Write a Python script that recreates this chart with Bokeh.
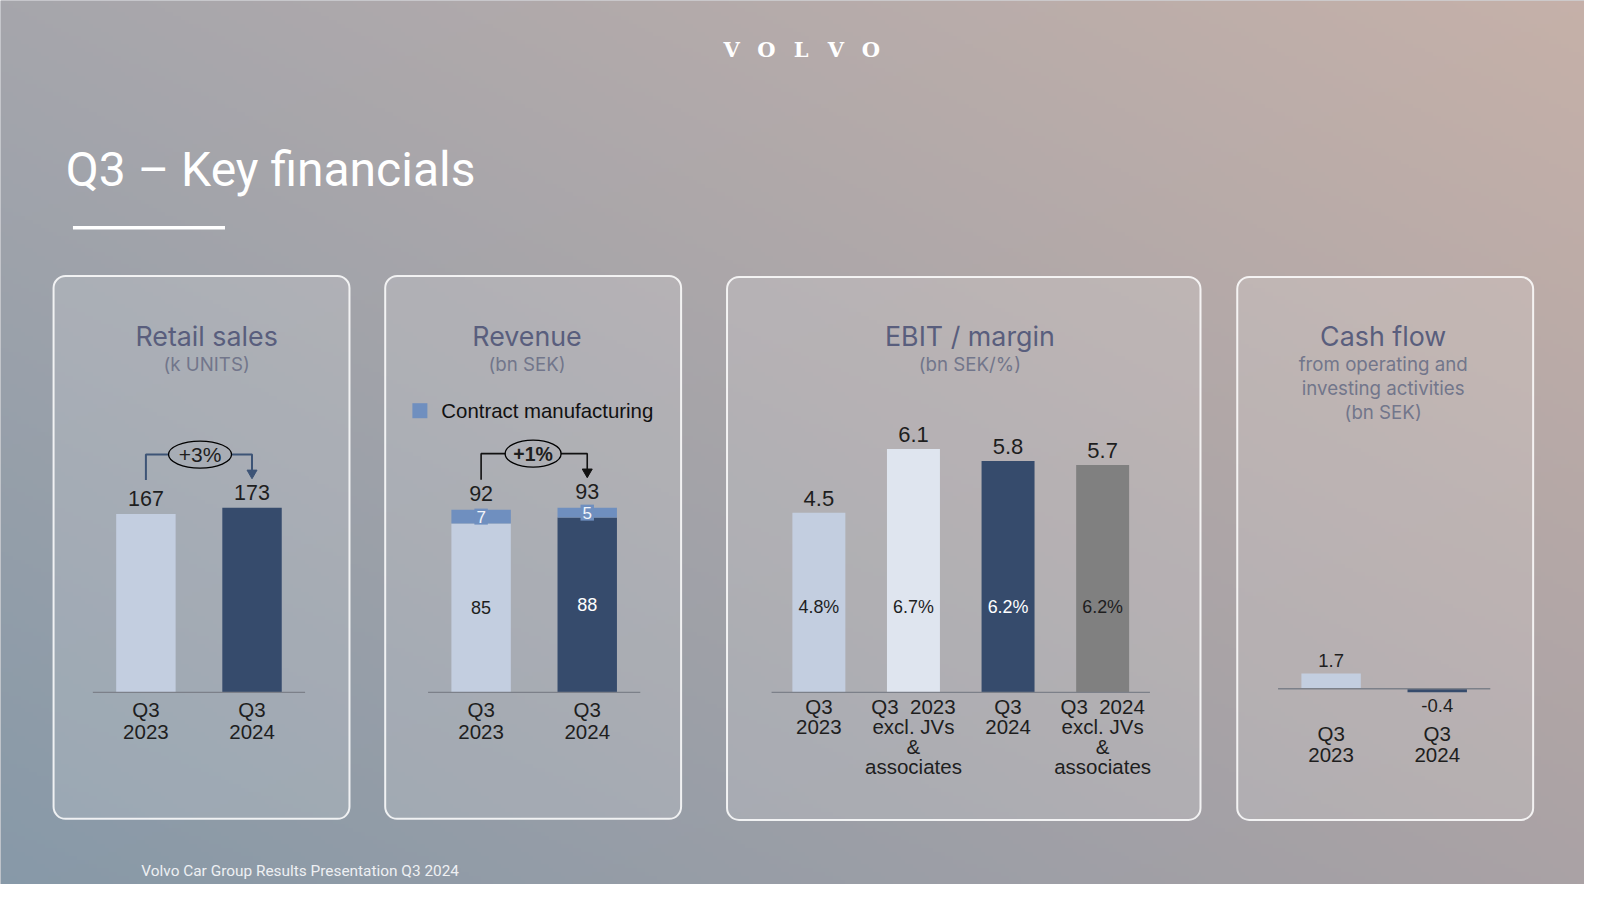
import numpy as np
from bokeh.plotting import figure
from bokeh.models import Range1d
from bokeh.core.properties import value
from bokeh.embed import file_html
from bokeh.resources import INLINE

CW, CH = 1584, 884          # canvas size in page pixels
SC = 0.98                   # layout units per page pixel
X1, Y1 = CW * SC, CH * SC   # extent of the layout coordinate system

# ---------------- data ----------------
slide_title = "Q3 \u2013 Key financials"
footer_text = "Volvo Car Group Results Presentation Q3 2024"
logo_letters = ["V", "O", "L", "V", "O"]

panel_titles = ["Retail sales", "Revenue", "EBIT / margin", "Cash flow"]
panel_subtitles = ["(k UNITS)", "(bn SEK)", "(bn SEK/%)",
                   "from operating and\ninvesting activities\n(bn SEK)"]

retail_cats = ["Q3\n2023", "Q3\n2024"]
retail_vals = [167, 173]
retail_change = "+3%"

revenue_cats = ["Q3\n2023", "Q3\n2024"]
revenue_core = [85, 88]
revenue_contract = [7, 5]
revenue_total = [92, 93]
revenue_change = "+1%"
revenue_legend = "Contract manufacturing"

ebit_cats = ["Q3\n2023", "Q3\u00a0\u00a02023\nexcl. JVs\n&\nassociates",
             "Q3\n2024", "Q3\u00a0\u00a02024\nexcl. JVs\n&\nassociates"]
ebit_vals = [4.5, 6.1, 5.8, 5.7]
ebit_margins = ["4.8%", "6.7%", "6.2%", "6.2%"]

cash_cats = ["Q3\n2023", "Q3\n2024"]
cash_vals = [1.7, -0.4]

# ---------------- styles ----------------
LIGHT = "#c3cee0"
DARK = "#364b6c"
PALE = "#dfe5ef"
GRAY = "#808080"
CONTRACT = "#6f8fbf"
TXT = "#1e1e1e"
TITLE_C = "#595e7d"
SUB_C = "#72768b"
AXIS_C = "#7c8089"
NUM_FONT = value("Liberation Sans")
HEAD_FONT = value("Inter")

p = figure(width=CW, height=CH, x_range=Range1d(0, X1), y_range=Range1d(Y1, 0),
           output_backend="svg", toolbar_location=None, min_border=0,
           x_axis_location=None, y_axis_location=None)
p.grid.grid_line_color = None
p.outline_line_color = None
p.background_fill_color = "#a4a6ad"
p.border_fill_color = "#a4a6ad"

# ---------------- background gradient ----------------
ny, nx = 221, 396
u = np.linspace(0, X1 / 1568, nx)[None, :, None]
v = np.linspace(1 - Y1 / 882, 1, ny)[:, None, None]  # 0 = bottom of full slide
TL = np.array([166, 166, 172.0])
TR = np.array([198, 177, 169.0])
BL = np.array([135, 153, 168.0])
BR = np.array([170, 162, 165.0])
top = TL * (1 - u) + TR * u
bot = BL * (1 - u) + BR * u
col = bot * (1 - v) + top * v
img = np.empty((ny, nx), dtype=np.uint32)
view = img.view(dtype=np.uint8).reshape((ny, nx, 4))
view[..., 0] = col[..., 0]
view[..., 1] = col[..., 1]
view[..., 2] = col[..., 2]
view[..., 3] = 255
p.extra_y_ranges["bg"] = Range1d(0, 1)
p.image_rgba(image=[img], x=0, y=0, dw=X1, dh=1, y_range_name="bg")

# ---------------- slide decor ----------------
p.text(x=[716.5 + 34.1 * i for i in range(len(logo_letters))], y=[48] * len(logo_letters),
       text=logo_letters, text_font=value("DejaVu Serif"), text_font_style="bold",
       text_font_size="21px", text_color="white", text_align="center", text_baseline="middle")
p.text(x=[64], y=[166], text=[slide_title], text_font=value("Roboto"),
       text_font_size="48px", text_color="white", text_baseline="middle")
p.quad(left=[71], right=[220], top=[221], bottom=[224.5], fill_color="white", line_color=None)
p.text(x=[138], y=[853], text=[footer_text], text_font=value("Roboto"),
       text_font_size="15.4px", text_color="#eef0f3", text_baseline="middle")

panel_left = [52, 377, 712, 1212]
panel_right = [342, 667, 1176, 1502]
panel_top = [270, 270, 271, 271]
panel_bottom = [802, 802, 803, 803]
p.quad(left=panel_left, right=panel_right, top=panel_top, bottom=panel_bottom,
       fill_color="white", fill_alpha=0.14, line_color="white", line_alpha=0.85,
       line_width=2, border_radius=12)

title_x = [202, 516, 950, 1355]
p.text(x=title_x, y=[329] * 4, text=panel_titles, text_font=HEAD_FONT, text_font_size="26.8px",
       text_color=TITLE_C, text_align="center", text_baseline="middle")
p.text(x=title_x, y=[357, 357, 357, 380.5], text=panel_subtitles, text_font=HEAD_FONT,
       text_font_size="18.7px", text_color=SUB_C, text_align="center", text_baseline="middle",
       text_line_height=1.05)


def chart(name, x0, dx, base, k):
    p.extra_x_ranges[name] = Range1d(-x0 / dx, (X1 - x0) / dx)
    p.extra_y_ranges[name] = Range1d((base - Y1) / k, base / k)
    return dict(x_range_name=name, y_range_name=name)


def baseline(r, n):
    p.segment(x0=[-0.5], x1=[n - 0.5], y0=[0], y1=[0], line_color=AXIS_C, line_width=1.3, **r)


def cat_labels(r, cats, off, size, lh):
    p.text(x=list(range(len(cats))), y=[0] * len(cats), text=cats, y_offset=off,
           text_font=NUM_FONT, text_font_size=size, text_color=TXT, text_align="center",
           text_baseline="top", text_line_height=lh, **r)


def connector(r, start, level, tip, ex, ehw, label, color, lw, bold, fsize, ew, eh):
    p.multi_line(xs=[[0, 0, ex - ehw], [ex + ehw, 1, 1]],
                 ys=[[start, level, level], [level, level, tip]],
                 line_color=color, line_width=lw, **r)
    p.scatter(x=[1], y=[tip], marker="inverted_triangle", size=10, fill_color=color,
              line_color=color, **r)
    p.ellipse(x=[ex], y=[level], width=ew, height=eh, width_units="screen",
              height_units="screen", fill_color=None, line_color="black", line_width=1.3, **r)
    p.text(x=[ex], y=[level], text=[label], text_font=NUM_FONT, text_font_size=fsize,
           text_font_style="bold" if bold else "normal", text_color=TXT,
           text_align="center", text_baseline="middle", **r)


# ---------------- Retail sales ----------------
r1 = chart("retail", 142.5, 104, 678, 1.046)
i1 = list(range(len(retail_vals)))
p.vbar(x=i1, top=retail_vals, bottom=0, width=0.56, fill_color=[LIGHT, DARK], line_color=None, **r1)
baseline(r1, len(retail_vals))
p.text(x=i1, y=retail_vals, text=[str(v_) for v_ in retail_vals], y_offset=-8,
       text_font=NUM_FONT, text_font_size="21.5px", text_color=TXT, text_align="center",
       text_baseline="bottom", **r1)
cat_labels(r1, retail_cats, 6, "20.5px", 0.935)
connector(r1, 199, 222.8, 205.5, 0.51, 0.3, retail_change, "#3d5476", 2, False, "21px", 63, 27)

# ---------------- Revenue ----------------
r2 = chart("revenue", 471, 104, 678, 1.946)
i2 = list(range(len(revenue_core)))
p.vbar(x=i2, top=revenue_core, bottom=0, width=0.56, fill_color=[LIGHT, DARK], line_color=None, **r2)
p.vbar(x=i2, top=revenue_total, bottom=revenue_core, width=0.56, fill_color=CONTRACT,
       line_color=None, **r2)
baseline(r2, len(revenue_core))
p.text(x=i2, y=[c / 2 for c in revenue_core], text=[str(c) for c in revenue_core],
       text_font=NUM_FONT, text_font_size="18px", text_color=[TXT, "white"],
       text_align="center", text_baseline="middle", **r2)
p.text(x=i2, y=[c + s / 2 for c, s in zip(revenue_core, revenue_contract)],
       text=[str(s) for s in revenue_contract], text_font=NUM_FONT, text_font_size="17px",
       text_color="#f2f5fa", text_align="center", text_baseline="middle",
       background_fill_color=CONTRACT, padding=2, **r2)
p.text(x=i2, y=revenue_total, text=[str(t) for t in revenue_total], y_offset=-9,
       text_font=NUM_FONT, text_font_size="21.5px", text_color=TXT, text_align="center",
       text_baseline="bottom", **r2)
cat_labels(r2, revenue_cats, 6, "20.5px", 0.935)
connector(r2, 107, 120.2, 111, 0.49, 0.26, revenue_change, "#111111", 1.6, True, "19.5px", 56, 27)
p.scatter(x=[411], y=[402], marker="square", size=15, fill_color=CONTRACT, line_color=None)
p.text(x=[432], y=[402], text=[revenue_legend], text_font=NUM_FONT, text_font_size="20.4px",
       text_color="#111111", text_baseline="middle")

# ---------------- EBIT / margin ----------------
r3 = chart("ebit", 802, 92.7, 678, 39.1)
i3 = list(range(len(ebit_vals)))
p.vbar(x=i3, top=ebit_vals, bottom=0, width=0.56, fill_color=[LIGHT, PALE, DARK, GRAY],
       line_color=None, **r3)
baseline(r3, len(ebit_vals))
p.text(x=i3, y=ebit_vals, text=[f"{v_:.1f}" for v_ in ebit_vals], y_offset=-7,
       text_font=NUM_FONT, text_font_size="22px", text_color=TXT, text_align="center",
       text_baseline="bottom", **r3)
p.text(x=i3, y=[2.15] * len(ebit_vals), text=ebit_margins, text_font=NUM_FONT,
       text_font_size="17.9px", text_color=[TXT, TXT, "white", TXT], text_align="center",
       text_baseline="middle", **r3)
cat_labels(r3, ebit_cats, 3, "20.5px", 0.87)

# ---------------- Cash flow ----------------
r4 = chart("cash", 1304, 104, 674.5, 8.8)
i4 = list(range(len(cash_vals)))
p.vbar(x=i4, top=cash_vals, bottom=0, width=0.56, fill_color=[LIGHT, DARK], line_color=None, **r4)
baseline(r4, len(cash_vals))
pos = [i for i, c in enumerate(cash_vals) if c >= 0]
neg = [i for i, c in enumerate(cash_vals) if c < 0]
p.text(x=pos, y=[cash_vals[i] for i in pos], text=[f"{cash_vals[i]:.1f}" for i in pos],
       y_offset=-7, text_font=NUM_FONT, text_font_size="18.5px", text_color=TXT,
       text_align="center", text_baseline="bottom", **r4)
p.text(x=neg, y=[cash_vals[i] for i in neg], text=[f"{cash_vals[i]:.1f}" for i in neg],
       y_offset=6.5, text_font=NUM_FONT, text_font_size="18.5px", text_color=TXT,
       text_align="center", text_baseline="top", **r4)
cat_labels(r4, cash_cats, 33, "20.5px", 0.935)

open("out.html", "w").write(file_html(p, INLINE))
